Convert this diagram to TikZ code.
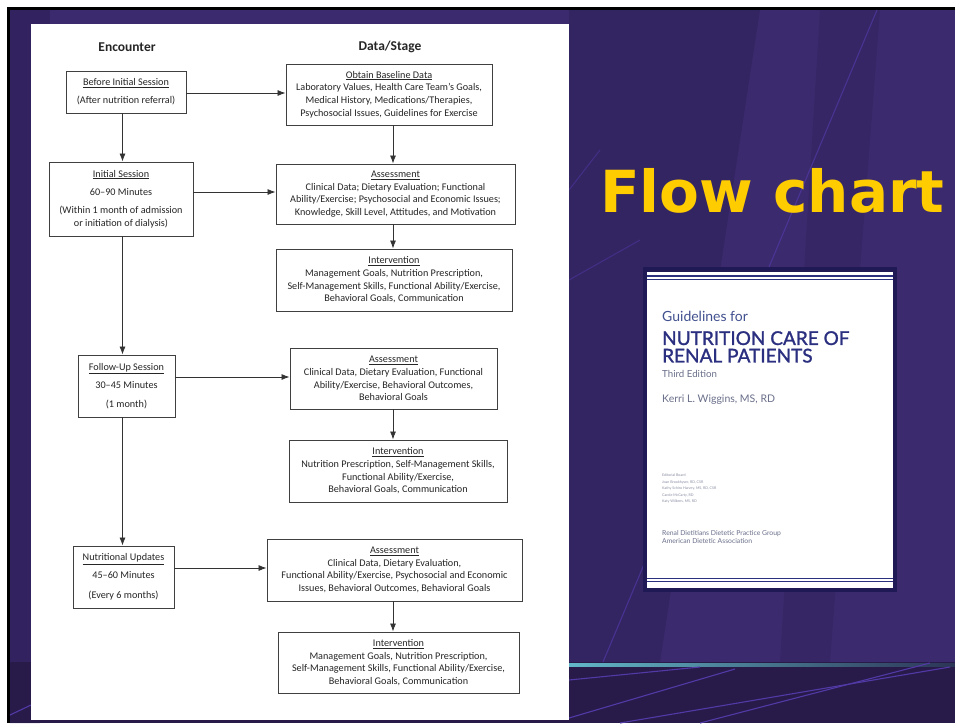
\documentclass[tikz,border=0pt]{standalone}
\usepackage{fontspec}
\setmainfont{Carlito}
\newfontfamily\coverfont{Lato}
\newfontfamily\coverbold[FakeBold=1.3]{Lato}
\newfontfamily\titlefont{DejaVu Sans}
\usetikzlibrary{arrows.meta,calc}
\definecolor{bgpurple}{HTML}{3C2A6E}
\definecolor{bgdark}{HTML}{2C1F57}
\definecolor{bandc}{HTML}{281B4A}
\definecolor{violetline}{HTML}{5239A6}
\definecolor{yellowc}{HTML}{FFCC00}
\definecolor{tealc}{HTML}{62B7C8}
\definecolor{slatec}{HTML}{2C3556}
\definecolor{navyframe}{HTML}{1F1A55}
\definecolor{covernavy}{HTML}{2B2F7F}
\definecolor{coverblue}{HTML}{41508F}
\definecolor{covergray}{HTML}{6A6F8A}
\tikzset{
  box/.style={draw=black!75, line width=0.9pt, fill=white, inner sep=0pt, align=center,
    text=black!85, font=\fontsize{10.2}{12.7}\selectfont},
  arr/.style={draw=black!80, line width=0.8pt, -{Latex[length=8pt,width=6pt]}},
  head/.style={font=\fontsize{13.5}{16}\selectfont\bfseries, text=black!85},
  bgline/.style={draw=violetline, line width=1.1pt},
  covertext/.style={anchor=base west, inner sep=0pt, font=\coverfont},
}
\begin{document}
\begin{tikzpicture}[x=1pt,y=-1pt]
\useasboundingbox (0,0) rectangle (955,723);
% background
\fill[white] (0,0) rectangle (955,723);
\fill[black] (7,7) rectangle (955,723);
\fill[bgpurple] (10,10) rectangle (955,723);
\fill[bgdark, opacity=0.6] (10,10) -- (50,10) -- (40,723) -- (10,723) -- cycle;
\fill[bgdark, opacity=0.5] (569,10) -- (760,10) -- (660,662) -- (569,662) -- cycle;
\fill[bgdark, opacity=0.35] (820,10) -- (880,10) -- (830,662) -- (780,662) -- cycle;
\draw[bgline, opacity=0.7] (877,10) -- (603,662);
\draw[bgline, opacity=0.5] (569,190) -- (600,150);
\draw[bgline, opacity=0.5] (569,280) -- (640,240);
\fill[bandc] (10,662) rectangle (955,723);
\shade[left color=tealc, right color=slatec] (569,663) rectangle (955,666.5);
\draw[bgline] (569,718) -- (735,669);
\draw[bgline] (569,680) -- (700,667);
\draw[bgline] (620,723) -- (950,667);
\draw[bgline] (700,723) -- (930,663);
\draw[bgline] (10,715) -- (31,705);
% page
\fill[white] (31,24) rectangle (569,720);
% headings
\node[head] (enc) at (127,47) {Encounter};
\node[head] (data) at (390,47) {Data/Stage};
% left boxes
\node[box, minimum width=120pt, minimum height=42pt] (before) at (126,92)
  {\underline{Before Initial Session}\\[5.3pt](After nutrition referral)};
\node[box, minimum width=144pt, minimum height=74pt] (initial) at (121,199)
  {\underline{Initial Session}\\[5.3pt]60--90 Minutes\\[6pt](Within 1 month of admission\\or initiation of dialysis)};
\node[box, minimum width=97pt, minimum height=62pt] (follow) at (126.5,386)
  {\underline{Follow-Up Session}\\[5.3pt]30--45 Minutes\\[6pt](1 month)};
\node[box, minimum width=101pt, minimum height=62pt] (nutr) at (123.5,577)
  {\underline{Nutritional Updates}\\[5.3pt]45--60 Minutes\\[7pt](Every 6 months)};
% right boxes
\node[box, minimum width=206pt, minimum height=61pt] (base) at (389,94.5)
  {\underline{Obtain Baseline Data}\\Laboratory Values, Health Care Team's Goals,\\Medical History, Medications/Therapies,\\Psychosocial Issues, Guidelines for Exercise};
\node[box, minimum width=239pt, minimum height=60pt] (assA) at (395.5,194)
  {\underline{Assessment}\\Clinical Data; Dietary Evaluation; Functional\\Ability/Exercise; Psychosocial and Economic Issues;\\Knowledge, Skill Level, Attitudes, and Motivation};
\node[box, minimum width=236pt, minimum height=62pt] (intA) at (394,280)
  {\underline{Intervention}\\Management Goals, Nutrition Prescription,\\Self-Management Skills, Functional Ability/Exercise,\\Behavioral Goals, Communication};
\node[box, minimum width=207pt, minimum height=61pt] (assB) at (393.5,378.5)
  {\underline{Assessment}\\Clinical Data, Dietary Evaluation, Functional\\Ability/Exercise, Behavioral Outcomes,\\Behavioral Goals};
\node[box, minimum width=218pt, minimum height=62pt] (intB) at (398,471)
  {\underline{Intervention}\\Nutrition Prescription, Self-Management Skills,\\Functional Ability/Exercise,\\Behavioral Goals, Communication};
\node[box, minimum width=255pt, minimum height=62pt] (assC) at (394.5,570)
  {\underline{Assessment}\\Clinical Data, Dietary Evaluation,\\Functional Ability/Exercise, Psychosocial and Economic\\Issues, Behavioral Outcomes, Behavioral Goals};
\node[box, minimum width=241pt, minimum height=61pt] (intC) at (398.5,662.5)
  {\underline{Intervention}\\Management Goals, Nutrition Prescription,\\Self-Management Skills, Functional Ability/Exercise,\\Behavioral Goals, Communication};
% connectors
\coordinate (cl) at (122.5,0);
\coordinate (cr) at (393,0);
\draw[arr] (before.south -| cl) -- (initial.north -| cl);
\draw[arr] (initial.south -| cl) -- (follow.north -| cl);
\draw[arr] (follow.south -| cl) -- (nutr.north -| cl);
\draw[arr] (base.south -| cr) -- (assA.north -| cr);
\draw[arr] (assA.south -| cr) -- (intA.north -| cr);
\draw[arr] (assB.south -| cr) -- (intB.north -| cr);
\draw[arr] (assC.south -| cr) -- (intC.north -| cr);
\draw[arr] ([yshift=-1pt]before.east) -- ([yshift=-1pt]before.east -| base.west);
\draw[arr] ([yshift=7pt]initial.east) -- ([yshift=7pt]initial.east -| assA.west);
\draw[arr] ([yshift=9pt]follow.east) -- ([yshift=9pt]follow.east -| assB.west);
\draw[arr] ([yshift=9pt]nutr.east) -- ([yshift=9pt]nutr.east -| assC.west);
% title
\node[font=\titlefont\bfseries\fontsize{58}{60}\selectfont, text=yellowc, anchor=base, inner sep=0pt] (title) at (772.5,212) {Flow chart};
% book cover
\fill[navyframe] (643,267) rectangle (897,592);
\fill[white] (647,272) rectangle (893,588);
\draw[covernavy, line width=1.6pt] (647,276) -- (893,276);
\draw[covernavy, line width=0.7pt] (647,279.5) -- (893,279.5);
\draw[covernavy, line width=0.7pt] (647,578) -- (893,578);
\draw[covernavy, line width=1.6pt] (647,581.5) -- (893,581.5);
\node[covertext, text=coverblue, font=\coverfont\fontsize{14}{16}\selectfont] (g1) at (662,321) {Guidelines for};
\node[covertext, anchor=north west, text=covernavy, font=\coverbold\fontsize{19}{17.5}\selectfont, align=left] (g2) at (662,331) {NUTRITION CARE OF\\RENAL PATIENTS};
\node[covertext, text=covergray, font=\coverfont\fontsize{9.7}{11}\selectfont] (g4) at (662,377.5) {Third Edition};
\node[covertext, text=covergray, font=\coverfont\fontsize{10.5}{12}\selectfont] (g5) at (662,402) {Kerri L. Wiggins, MS, RD};
\node[covertext, text=covergray!80, font=\coverfont\fontsize{3.6}{6.5}\selectfont, align=left, anchor=north west] (g6) at (662,474)
  {Editorial Board\\Joan Brookhyser, RD, CSR\\Kathy Schiro Harvey, MS, RD, CSR\\Carole McCarty, RD\\Katy Wilkens, MS, RD};
\node[covertext, anchor=north west, text=covergray, font=\coverfont\fontsize{6.8}{8}\selectfont, align=left] (g7) at (662,530) {Renal Dietitians Dietetic Practice Group\\American Dietetic Association};
\end{tikzpicture}
\end{document}
